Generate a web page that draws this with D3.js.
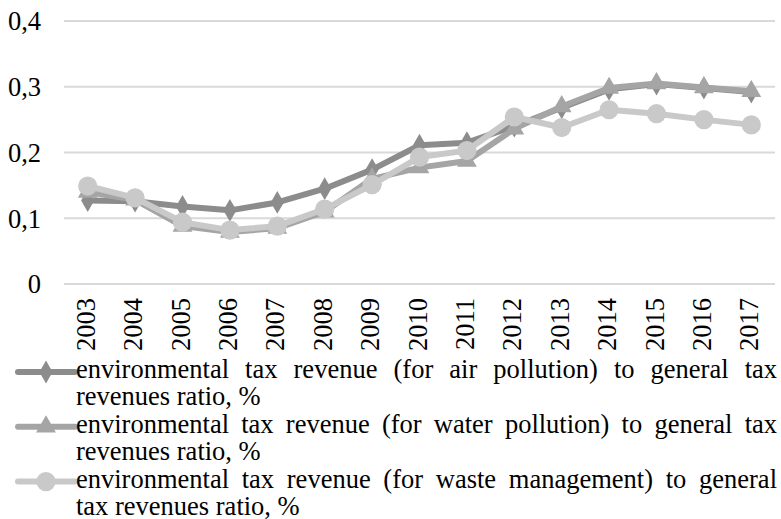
<!DOCTYPE html>
<html>
<head>
<meta charset="utf-8">
<script src="https://cdn.jsdelivr.net/npm/d3@7"></script>
<style>
  body { margin: 0; background: #fff; }
  text { font-family: "Liberation Serif", "Times New Roman", serif; fill: #000; }
</style>
</head>
<body>
<script>
// data
var years = ["2003","2004","2005","2006","2007","2008","2009","2010","2011","2012","2013","2014","2015","2016","2017"];
var airPollution   = [0.127, 0.126, 0.118, 0.112, 0.124, 0.145, 0.174, 0.211, 0.215, 0.240, 0.268, 0.296, 0.304, 0.298, 0.292];
var waterPollution = [0.140, 0.128, 0.088, 0.079, 0.085, 0.110, 0.160, 0.177, 0.187, 0.236, 0.270, 0.298, 0.305, 0.299, 0.293];
var wasteManagement = [0.149, 0.131, 0.094, 0.082, 0.088, 0.114, 0.151, 0.193, 0.203, 0.254, 0.238, 0.265, 0.259, 0.250, 0.242];
var yTicks = [0, 0.1, 0.2, 0.3, 0.4];
var legendLines = [
  ["environmental tax revenue (for air pollution) to general tax", "revenues ratio, %"],
  ["environmental tax revenue (for water pollution) to general tax", "revenues ratio, %"],
  ["environmental tax revenue (for waste management) to general", "tax revenues ratio, %"]
];

var W = 781, H = 519;
var fontSize = 26.5;

var svg = d3.select("body").append("svg")
    .attr("width", W)
    .attr("height", H);

svg.append("rect").attr("width", W).attr("height", H).attr("fill", "#fff");

var x = d3.scaleBand().domain(years).range([64, 775]);
var y = d3.scaleLinear().domain([0, 0.4]).range([284, 21]);
var cx = function(d) { return x(d) + x.bandwidth() / 2; };

// gridlines
svg.selectAll(".grid")
    .data(yTicks)
  .enter().append("line")
    .attr("x1", 64).attr("x2", 775)
    .attr("y1", function(d) { return y(d); })
    .attr("y2", function(d) { return y(d); })
    .style("stroke", "#d9d9d9")
    .style("stroke-width", 2);

// y labels with comma decimals
svg.selectAll(".ylab")
    .data(yTicks)
  .enter().append("text")
    .attr("x", 41)
    .attr("y", function(d) { return y(d); })
    .attr("dy", "0.35em")
    .attr("text-anchor", "end")
    .style("font-size", fontSize + "px")
    .text(function(d) { return d === 0 ? "0" : d3.format(".1f")(d).replace(".", ","); });

// x labels, rotated
svg.selectAll(".xlab")
    .data(years)
  .enter().append("text")
    .attr("transform", function(d) { return "translate(" + (cx(d) + 7) + ",298) rotate(-90)"; })
    .attr("text-anchor", "end")
    .style("font-size", fontSize + "px")
    .text(function(d) { return d; });

var series = [
  {name: "air", values: airPollution, color: "#8c8c8c", shape: d3.symbolDiamond, size: 150},
  {name: "water", values: waterPollution, color: "#a5a5a5", shape: d3.symbolTriangle, size: 170},
  {name: "waste", values: wasteManagement, color: "#c9c9c9", shape: d3.symbolCircle, size: 290}
];

var line = d3.line()
    .x(function(d, i) { return cx(years[i]); })
    .y(function(d) { return y(d); });

series.forEach(function(s) {
  var g = svg.append("g");
  g.append("path")
      .datum(s.values)
      .attr("d", line)
      .attr("fill", "none")
      .style("stroke", s.color)
      .style("stroke-width", 6)
      .style("stroke-linejoin", "round");
  g.selectAll(".pt")
      .data(s.values)
    .enter().append("path")
      .attr("transform", function(d, i) { return "translate(" + cx(years[i]) + "," + y(d) + ")"; })
      .attr("d", d3.symbol().type(s.shape).size(s.size))
      .attr("fill", s.color);
});

// legend
var lineGap = 27.4;
var textLeft = 76, textRight = 777;

function justify(g, str, yPos) {
  var words = str.split(" ");
  var nodes = words.map(function(w) {
    return g.append("text").attr("y", yPos).style("font-size", fontSize + "px").text(w);
  });
  var widths = nodes.map(function(n) { return n.node().getComputedTextLength(); });
  var gap = (textRight - textLeft - d3.sum(widths)) / (words.length - 1);
  var xp = textLeft;
  nodes.forEach(function(n, i) {
    n.attr("x", xp);
    xp += widths[i] + gap;
  });
}

series.forEach(function(s, k) {
  var base = 378 + k * 2 * lineGap;
  var g = svg.append("g");
  g.append("line")
      .attr("x1", 18).attr("x2", 75)
      .attr("y1", base - 6).attr("y2", base - 6)
      .style("stroke", s.color)
      .style("stroke-width", 6)
      .style("stroke-linecap", "round");
  g.append("path")
      .attr("transform", "translate(46," + (base - 6) + ")")
      .attr("d", d3.symbol().type(s.shape).size(s.size))
      .attr("fill", s.color);
  justify(g, legendLines[k][0], base);
  g.append("text")
      .attr("x", textLeft)
      .attr("y", base + lineGap)
      .style("font-size", fontSize + "px")
      .text(legendLines[k][1]);
});
</script>
</body>
</html>
